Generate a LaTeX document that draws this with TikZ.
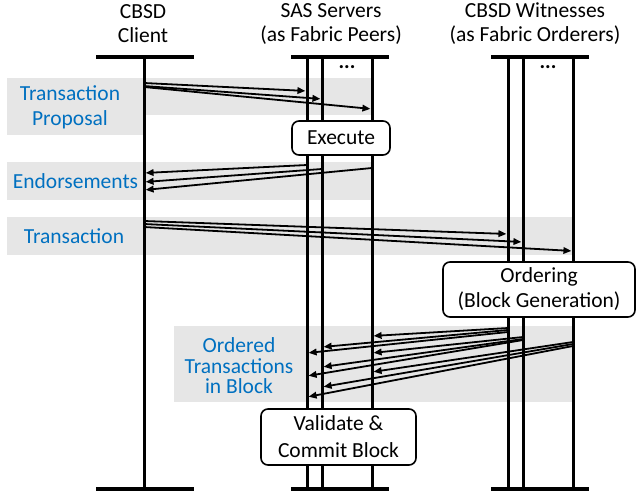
\documentclass[tikz,border=0pt]{standalone}
\usepackage{fontspec}
\setmainfont{Carlito}
\usetikzlibrary{arrows.meta,positioning}
\definecolor{labelblue}{RGB}{0,112,192}
\definecolor{bandgray}{RGB}{230,230,230}
\tikzset{
    %Define standard arrow tip
    >={Triangle[length=8pt,width=6.5pt]},
    %Define style for actor titles
    actortitle/.style={
             align=center, inner sep=0pt,
             font=\fontsize{21.5}{24}\selectfont},
    %Define style for blue phase labels
    phaselabel/.style={
             align=center, inner sep=0pt,
             text=labelblue,
             font=\fontsize{21.5}{25}\selectfont},
    %Define style for processing boxes
    stepbox/.style={
             rectangle, rounded corners=7pt,
             draw=black, line width=1.6pt, fill=white,
             align=center, inner sep=0pt,
             font=\fontsize{21.5}{26}\selectfont},
    band/.style={fill=bandgray},
    lifeline/.style={line width=3pt},
    actorbar/.style={line width=4.2pt},
    % Define arrow style
    msgarrow/.style={
            ->,
            line width=1.8pt,
            shorten >=1.6pt}
}
\begin{document}
\begin{tikzpicture}[x=1pt, y={(0pt,-1pt)}]
 \useasboundingbox (0,0) rectangle (636,493);
 % grey phase bands
 \fill[band] (7,78) rectangle (143,135);
 \fill[band] (143,78) rectangle (372,115);
 \fill[band] (7,162) rectangle (372,200);
 \fill[band] (7,217) rectangle (572,255);
 \fill[band] (174,326) rectangle (572,402);
 % titles
 \node[actortitle] (clienttitle) at (143,24) {CBSD\\Client};
 \node[actortitle] (peertitle) at (331,24) {SAS Servers\\(as Fabric Peers)};
 \node[actortitle] (orderertitle) at (535,24) {CBSD Witnesses\\(as Fabric Orderers)};
 % lifelines and bars
 \foreach \name/\x in {c/144, s1/307, s2/322, s3/372, w1/508, w2/523, w3/573} {
   \coordinate (\name top) at (\x,57);
   \coordinate (\name bot) at (\x,489);
   \draw[lifeline] (\name top) -- (\name bot);
 }
 \foreach \name/\l/\r in {client/96/194, peers/291/389, orderers/491/589} {
   \coordinate (\name tl) at (\l,57);
   \coordinate (\name tr) at (\r,57);
   \coordinate (\name bl) at (\l,489);
   \coordinate (\name br) at (\r,489);
   \draw[actorbar] (\name tl) -- (\name tr);
   \draw[actorbar] (\name bl) -- (\name br);
 }
 \node[font=\fontsize{21}{21}\selectfont\bfseries, inner sep=0pt] (peerdots) at (347,67) {...};
 \node[font=\fontsize{21}{21}\selectfont\bfseries, inner sep=0pt] (ordererdots) at (548,67) {...};
 % phase labels
 \node[phaselabel] (proposal) at (70,107) {Transaction\\Proposal};
 \node[phaselabel] (endorse) at (75.5,181) {Endorsements};
 \node[phaselabel] (transaction) at (74,236) {Transaction};
 \node[phaselabel, font=\fontsize{21.5}{20.5}\selectfont] (ordered) at (239,366) {Ordered\\Transactions\\in Block};
 % messages
 \foreach \a/\ay/\b/\by in {c/83/s1/91, c/86/s2/99, c/87/s3/109,
     s1/165/c/173, s2/169/c/182, s3/168/c/190,
     c/221/w1/234, c/224/w2/242, c/227/w3/251,
     w1/328/s3/336, w1/330/s2/347, w1/332/s1/353,
     w2/337/s3/353, w2/339/s2/367, w2/340/s1/376,
     w3/342/s3/372, w3/344/s2/387, w3/346/s1/397}
   \draw[msgarrow] (\a top |- 0,\ay) -- (\b top |- 0,\by);
 % processing boxes
 \node[stepbox, minimum width=98pt, minimum height=34pt] (execute) at (341,138) {Execute};
 \node[stepbox, minimum width=192pt, minimum height=55pt, font=\fontsize{21.5}{25}\selectfont] (ordering) at (539,289.5) {Ordering\\(Block Generation)};
 \node[stepbox, minimum width=155pt, minimum height=56pt, font=\fontsize{21.5}{27}\selectfont] (validate) at (338.5,437) {Validate \&\\Commit Block};
\end{tikzpicture}
\end{document}
